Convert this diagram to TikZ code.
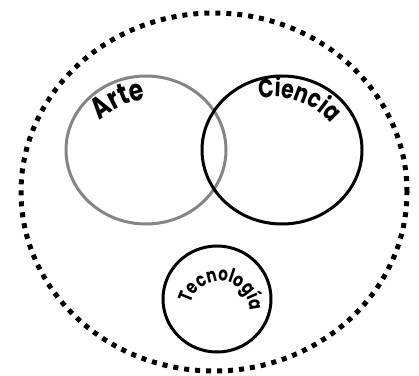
\documentclass[tikz,border=0pt]{standalone}
\usepackage{fontspec}
\setmainfont{Poppins}
\newfontfamily\arcfont{Poppins}[FakeStretch=0.78]
\usetikzlibrary{shapes.geometric,decorations.text}
\definecolor{stone}{HTML}{858585}
\tikzset{set/.style={draw,ellipse,line width=3pt,minimum width=160pt,minimum height=148pt},
 arclabel/.style={decorate,decoration={text along path,text align=center,text={#1}}}}
\begin{document}
\begin{tikzpicture}[x=1pt,y=1pt]
\useasboundingbox (0,0) rectangle (419,375);
\node[draw,ellipse,line width=5pt,dash pattern=on 5pt off 6pt,minimum width=386pt,minimum height=358pt] (todo) at (214,183) {};
\node[set,draw=stone] (arte) at (146,225) {};
\node[set] (ciencia) at (282,225) {};
\node[set,minimum width=108pt,minimum height=106pt] (tecno) at (217,76) {};

\path[arclabel={|\arcfont\fontsize{30}{30}\selectfont\bfseries|Arte}] (arte.center) ++(14pt,-40pt) ++(140:92pt) arc[start angle=140,end angle=90,radius=92pt];
\path[arclabel={|\arcfont\fontsize{26}{26}\selectfont\bfseries|Ciencia}] (ciencia.center) ++(-8pt,-20pt) ++(110:73pt) arc[start angle=110,end angle=31,radius=73pt];
\path[arclabel={|\arcfont\fontsize{19.5}{19.5}\selectfont\bfseries|Tecnología}] (tecno.center) ++(3pt,-12pt) ++(178:30pt) arc[start angle=178,end angle=-12,radius=30pt];
\end{tikzpicture}
\end{document}
